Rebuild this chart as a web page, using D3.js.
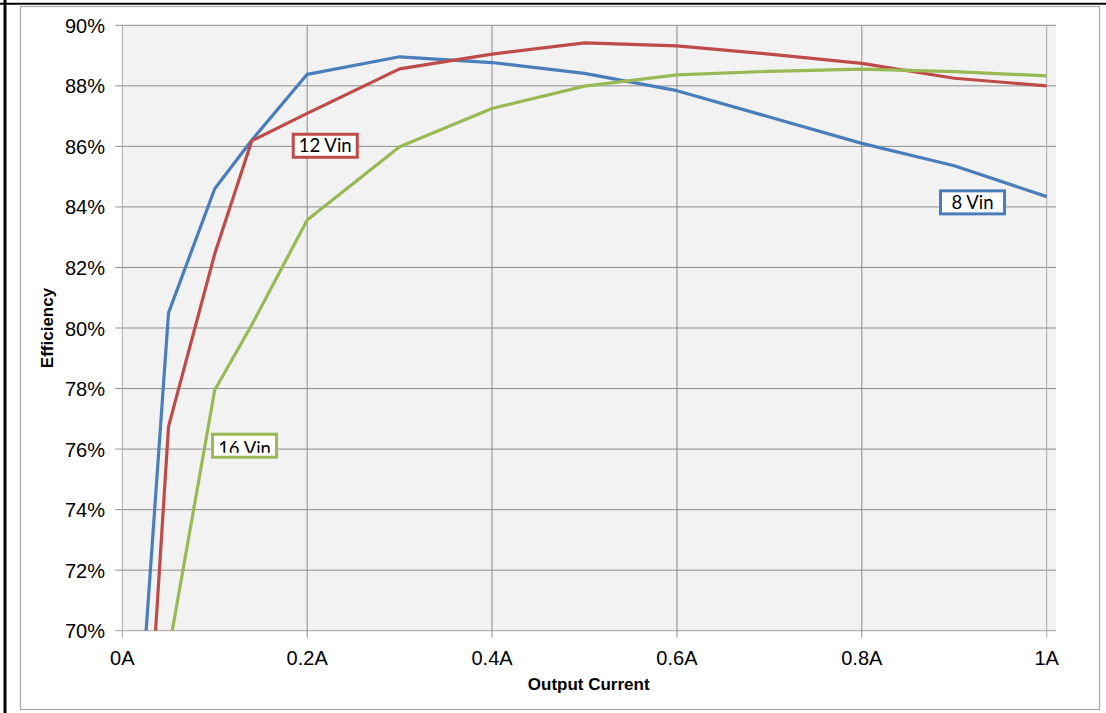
<!DOCTYPE html>
<html>
<head>
<meta charset="utf-8">
<script src="https://cdn.jsdelivr.net/npm/d3@7/dist/d3.min.js"></script>
<style>
  html, body { margin: 0; padding: 0; background: #fff; }
  svg { display: block; }
</style>
</head>
<body>
<svg id="chart" width="1106" height="713"></svg>
<script>
// ---- data ----
const current = [0.02, 0.05, 0.1, 0.14, 0.2, 0.3, 0.4, 0.5, 0.6, 0.7, 0.8, 0.9, 1.0];
const vin8  = [67.5, 80.5, 84.6, 86.2, 88.38, 88.96, 88.77, 88.41, 87.84, 86.97, 86.10, 85.36, 84.34];
const vin12 = [62.3, 76.74, 82.45, 86.18, 87.09, 88.56, 89.05, 89.42, 89.32, 89.05, 88.74, 88.25, 88.0];
const vin16 = [null, 69.3, 77.95, 80.1, 83.57, 85.99, 87.25, 87.99, 88.36, 88.48, 88.55, 88.47, 88.33];
const seriesNames = ["8 Vin", "12 Vin", "16 Vin"];
const seriesColors = ["#4A7EBB", "#BE4B48", "#98B954"];
const yTicks = [70, 72, 74, 76, 78, 80, 82, 84, 86, 88, 90];
const xTicks = [0, 0.2, 0.4, 0.6, 0.8, 1.0];
const xTickLabels = ["0A", "0.2A", "0.4A", "0.6A", "0.8A", "1A"];
// label anchors (data units: current, efficiency at box top-left)
const labelX = [0.8835, 0.1833, 0.096];
const labelY = [84.58, 86.45, 76.54];

const svg = d3.select("#chart");

// frames
svg.append("rect").attr("x", 20.5).attr("y", 6.5).attr("width", 1079).attr("height", 703)
  .attr("fill", "#fff").attr("stroke", "#a6a6a6").attr("stroke-width", 1.2);
svg.append("line").attr("x1", 0).attr("x2", 1106).attr("y1", 3.8).attr("y2", 3.8)
  .attr("stroke", "#000").attr("stroke-width", 2);
svg.append("line").attr("x1", 5).attr("x2", 5).attr("y1", 0).attr("y2", 713)
  .attr("stroke", "#000").attr("stroke-width", 3);

const L = 122.3, R = 1046.7, T = 25.3, B = 630.7, bgRight = 1056;
const x = d3.scaleLinear().domain([0, 1]).range([L, R]);
const y = d3.scaleLinear().domain([70, 90]).range([B, T]);

// plot background
svg.append("rect").attr("x", L).attr("y", T).attr("width", bgRight - L).attr("height", B - T)
  .attr("fill", "#f2f2f2");

// horizontal gridlines + left ticks
svg.append("g").selectAll("line").data(yTicks).join("line")
  .attr("x1", L - 7).attr("x2", bgRight)
  .attr("y1", d => y(d)).attr("y2", d => y(d))
  .attr("stroke", d => d === 70 ? "#a0a0a0" : "#8e8e8e").attr("stroke-width", 1);

// vertical gridlines + bottom ticks
svg.append("g").selectAll("line").data(xTicks).join("line")
  .attr("x1", d => x(d)).attr("x2", d => x(d))
  .attr("y1", T).attr("y2", B + 7)
  .attr("stroke", (d, i) => (i === 0 || i === xTicks.length - 1) ? "#a8a8a8" : "#8a8a8a")
  .attr("stroke-width", 1);

// y tick labels
svg.append("g").selectAll("text").data(yTicks).join("text")
  .attr("x", 105).attr("y", d => y(d) + 7.5)
  .attr("text-anchor", "end")
  .attr("font-family", "Liberation Sans, Arial, sans-serif").attr("font-size", 20)
  .attr("fill", "#000").text(d => d + "%");

// x tick labels
svg.append("g").selectAll("text").data(xTicks).join("text")
  .attr("x", d => x(d)).attr("y", 665)
  .attr("text-anchor", "middle")
  .attr("font-family", "Liberation Sans, Arial, sans-serif").attr("font-size", 20)
  .attr("fill", "#000").text((d, i) => xTickLabels[i]);

// axis titles
svg.append("text").attr("transform", "translate(53.3,328) rotate(-90)")
  .attr("text-anchor", "middle").attr("font-family", "Liberation Sans, Arial, sans-serif")
  .attr("font-weight", "bold").attr("font-size", 17).text("Efficiency");
svg.append("text").attr("x", 588.7).attr("y", 690)
  .attr("text-anchor", "middle").attr("font-family", "Liberation Sans, Arial, sans-serif")
  .attr("font-weight", "bold").attr("font-size", 17).text("Output Current");

// clip for lines
svg.append("defs").append("clipPath").attr("id", "plotclip")
  .append("rect").attr("x", L).attr("y", T).attr("width", bgRight - L).attr("height", B - T);

const seriesData = [vin8, vin12, vin16];
const line = d3.line()
  .defined(d => d[1] !== null)
  .x(d => x(d[0])).y(d => y(d[1]));

const lines = svg.append("g").attr("clip-path", "url(#plotclip)");
seriesData.forEach((vals, i) => {
  const pts = current.map((c, j) => [c, vals[j]]);
  lines.append("path").datum(pts)
    .attr("d", line).attr("fill", "none")
    .attr("stroke", seriesColors[i]).attr("stroke-width", 3.2)
    .attr("stroke-linejoin", "round").attr("stroke-linecap", "butt");
});

// series labels
const boxW = 64, boxH = 23;
const defs = svg.select("defs");
seriesNames.forEach((name, i) => {
  const bx = x(labelX[i]) + 1.5, by = y(labelY[i]) + 1.5;
  const g = svg.append("g");
  g.append("rect").attr("x", bx).attr("y", by).attr("width", boxW).attr("height", boxH)
    .attr("fill", "#fff").attr("stroke", seriesColors[i]).attr("stroke-width", 3);
  const t = g.append("text").attr("x", bx + boxW / 2).attr("y", by + 18)
    .attr("text-anchor", "middle").attr("font-family", "Lato, Carlito, sans-serif")
    .attr("font-size", 18.5).attr("fill", "#000").text(name);
  if (i === 2) {
    // text clipped inside its box in the original
    defs.append("clipPath").attr("id", "lblclip")
      .append("rect").attr("x", bx).attr("y", by).attr("width", boxW).attr("height", 18.5);
    t.attr("y", by + 20.5).attr("clip-path", "url(#lblclip)");
  }
});
</script>
</body>
</html>
